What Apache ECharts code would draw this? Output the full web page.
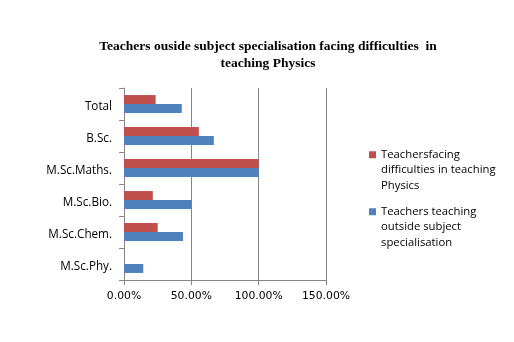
<!DOCTYPE html>
<html><head><meta charset="utf-8">
<script src="https://cdn.jsdelivr.net/npm/echarts@6/dist/echarts.min.js"></script>
<style>html,body{margin:0;padding:0;background:#fff}#c{width:514px;height:342px}</style>
</head><body><div id="c"></div>
<script>
const categories = ["M.Sc.Phy.", "M.Sc.Chem.", "M.Sc.Bio.", "M.Sc.Maths.", "B.Sc.", "Total"];
const outsideSpecialisation = [14.3, 43.8, 50.0, 100.0, 66.7, 42.9];
const facingDifficulties = [0, 25.0, 21.4, 100.0, 55.6, 23.5];
const xTicks = [0, 50, 100, 150];
const nameOutside = "Teachers teaching outside subject specialisation";
const nameDifficult = "Teachersfacing difficulties in teaching Physics";
const legendText = {};
legendText[nameOutside] = "\n\nTeachers teaching\noutside subject\nspecialisation";
legendText[nameDifficult] = "\n\nTeachersfacing\ndifficulties in teaching\nPhysics";

const chart = echarts.init(document.getElementById('c'), null, {renderer: 'canvas'});
chart.setOption({
  animation: false,
  backgroundColor: '#fff',
  title: {
    text: 'Teachers ouside subject specialisation facing difficulties  in\nteaching Physics',
    left: 263, top: 33, textAlign: 'center',
    textStyle: {fontFamily: 'Liberation Serif', fontWeight: 'bold', fontSize: 13.5, color: '#000', lineHeight: 17}
  },
  legend: {
    orient: 'vertical', left: 364, top: 111,
    data: [nameDifficult, nameOutside],
    itemWidth: 7, itemHeight: 7, itemGap: -20.5,
    icon: 'rect',
    formatter: n => legendText[n],
    textStyle: {fontFamily: 'Open Sans', fontSize: 11.3, color: '#000', lineHeight: 15.5},
    selectedMode: false
  },
  grid: {left: 124, right: 188, top: 88, bottom: 62, containLabel: false},
  xAxis: {
    type: 'value', min: 0, max: 150, interval: 50,
    axisLine: {show: true, lineStyle: {color: '#868686'}},
    axisTick: {show: true, length: 5, lineStyle: {color: '#868686'}},
    splitLine: {show: true, lineStyle: {color: '#868686'}},
    axisLabel: {formatter: v => v.toFixed(2) + '%', fontFamily: 'DejaVu Sans', fontSize: 10.8, color: '#000', margin: 11},
  },
  yAxis: {
    type: 'category', data: categories,
    axisLine: {show: true, lineStyle: {color: '#868686'}},
    axisTick: {show: true, length: 5, lineStyle: {color: '#868686'}},
    axisLabel: {
      formatter: v => '{a|' + v + '}', margin: 12,
      rich: {a: {fontFamily: 'Open Sans', fontSize: 11.7, color: '#000', padding: [6, 0, 0, 0]}}
    }
  },
  series: [
    {name: nameDifficult, type: 'bar', data: facingDifficulties, itemStyle: {color: '#C0504D'}, barGap: '0%', barCategoryGap: '44%'},
    {name: nameOutside, type: 'bar', data: outsideSpecialisation, itemStyle: {color: '#4F81BD'}, barGap: '0%', barCategoryGap: '44%'}
  ]
});
</script></body></html>
